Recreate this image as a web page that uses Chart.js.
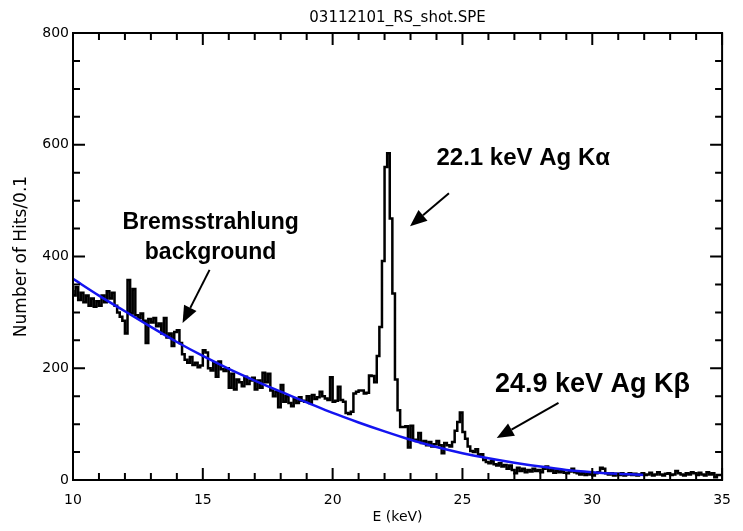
<!DOCTYPE html>
<html lang="en">
<head>
<meta charset="UTF-8">
<title>03112101_RS_shot.SPE</title>
<script src="https://cdn.jsdelivr.net/npm/chart.js"></script>
<style>
  body { margin: 0; background: #fff; }
  #wrap { width: 743px; height: 531px; }
</style>
</head>
<body>
<div id="wrap"><canvas id="spectrum" width="743" height="531"></canvas></div>
<script>
const plotTitle = '03112101_RS_shot.SPE';

// counts per 0.1 keV bin, first bin starts at 10.0 keV
const binStart = 10.0;
const binWidth = 0.1;
const counts = [
  340, 330, 345, 322, 335, 318, 330, 312, 325, 310,   // 10
  320, 312, 330, 318, 338, 325, 335, 312, 300, 292,   // 11
  285, 262, 358, 298, 342, 295, 290, 298, 285, 245,   // 12
  288, 282, 290, 275, 280, 262, 290, 255, 262, 240,   // 13
  265, 268, 245, 225, 215, 210, 220, 206, 210, 202,   // 14
  205, 232, 228, 200, 196, 210, 185, 212, 198, 195,   // 15
  200, 165, 190, 162, 180, 175, 168, 185, 172, 178,   // 16
  183, 162, 178, 165, 192, 175, 190, 160, 150, 158,   // 17
  130, 170, 140, 150, 138, 132, 145, 138, 148, 142,   // 18
  140, 150, 138, 152, 145, 148, 158, 150, 146, 143,   // 19
  184, 140, 142, 167, 143, 140, 120, 118, 122, 155,   // 20
  158, 160, 160, 155, 156, 187, 186, 175, 222, 274,   // 21
  392, 560, 585, 468, 334, 180, 125, 95, 95, 96,      // 22
  58, 97, 72, 70, 84, 66, 70, 62, 68, 60,             // 23
  64, 70, 62, 48, 66, 62, 60, 68, 88, 104,            // 24
  121, 86, 74, 60, 52, 50, 55, 44, 46, 36,            // 25
  32, 30, 34, 28, 26, 30, 24, 27, 20, 26,             // 26
  18, 12, 22, 16, 20, 14, 18, 15, 20, 16,             // 27
  18, 14, 20, 24, 16, 18, 13, 17, 14, 16,             // 28
  13, 12, 15, 20, 14, 12, 10, 13, 9, 12,              // 29
  10, 8, 12, 14, 22, 20, 12, 10, 12, 8,               // 30
  11, 9, 12, 8, 10, 12, 9, 11, 8, 10,                 // 31
  12, 9, 10, 13, 8, 10, 14, 10, 8, 11,                // 32
  12, 9, 10, 16, 12, 10, 8, 12, 10, 14,               // 33
  12, 9, 13, 10, 8, 14, 10, 12, 5, 9                  // 34
];

// bremsstrahlung background curve, read every 1 keV
const bgEnergy = [10, 11, 12, 13, 14, 15, 16, 17, 18, 19, 20, 21, 22, 23, 24, 25, 26, 27, 28, 29, 30, 31, 32];
const bgCounts = [360, 330, 302, 274, 247, 222, 199, 178, 158, 139, 120, 103, 87, 72, 59, 48, 39, 31, 24, 18, 14, 11, 9];

const xMajor = [10, 15, 20, 25, 30, 35];
const yMajor = [0, 200, 400, 600, 800];

// labels and arrows, in data coordinates (keV, counts)
const notes = [
  { lines: ['Bremsstrahlung', 'background'], x: 15.3, y: 460, size: 23, align: 'center', from: [15.26, 376], to: [14.22, 281] },
  { lines: ['22.1 keV Ag K\u03b1'], x: 24.0, y: 576, size: 24, align: 'left', from: [24.48, 513], to: [22.98, 454] },
  { lines: ['24.9 keV Ag K\u03b2'], x: 26.25, y: 170, size: 27, align: 'left', from: [28.7, 138], to: [26.32, 75] }
];

const histPoints = counts.map((c, i) => ({ x: binStart + i * binWidth, y: c }));
histPoints.push({ x: binStart + counts.length * binWidth, y: counts[counts.length - 1] });

const bgPoints = bgEnergy.map((e, i) => ({ x: e, y: bgCounts[i] }));

const labelFont = { family: 'DejaVu Sans', size: 14 };

// IDL style frame: box all round, ticks pointing inward, title over the plot
const frameTicks = {
  id: 'frameTicks',
  afterDatasetsDraw(chart) {
    const { ctx, chartArea: a, scales: { x, y } } = chart;
    ctx.save();
    ctx.strokeStyle = '#000';
    ctx.lineWidth = 2;
    ctx.strokeRect(a.left, a.top, a.right - a.left, a.bottom - a.top);
    ctx.beginPath();
    for (let e = 10; e <= 35; e++) {
      const px = x.getPixelForValue(e);
      const len = xMajor.includes(e) ? 12 : 7;
      ctx.moveTo(px, a.bottom); ctx.lineTo(px, a.bottom - len);
      ctx.moveTo(px, a.top); ctx.lineTo(px, a.top + len);
    }
    for (let v = 0; v <= 800; v += 50) {
      const py = y.getPixelForValue(v);
      const len = yMajor.includes(v) ? 12 : 7;
      ctx.moveTo(a.left, py); ctx.lineTo(a.left + len, py);
      ctx.moveTo(a.right, py); ctx.lineTo(a.right - len, py);
    }
    ctx.stroke();

    ctx.fillStyle = '#000';
    ctx.font = '15px "DejaVu Sans"';
    ctx.textAlign = 'center';
    ctx.textBaseline = 'middle';
    ctx.fillText(plotTitle, (a.left + a.right) / 2, 18);
    ctx.restore();
  }
};

const annotations = {
  id: 'annotations',
  afterDraw(chart) {
    const { ctx, scales: { x, y } } = chart;
    ctx.save();
    ctx.fillStyle = '#000';
    ctx.strokeStyle = '#000';
    ctx.textBaseline = 'middle';
    notes.forEach(n => {
      ctx.font = 'bold ' + n.size + 'px "Liberation Sans", Arial, sans-serif';
      ctx.textAlign = n.align;
      n.lines.forEach((t, i) => {
        ctx.fillText(t, x.getPixelForValue(n.x), y.getPixelForValue(n.y) + i * 30);
      });
      const x0 = x.getPixelForValue(n.from[0]), y0 = y.getPixelForValue(n.from[1]);
      const x1 = x.getPixelForValue(n.to[0]), y1 = y.getPixelForValue(n.to[1]);
      const ang = Math.atan2(y1 - y0, x1 - x0);
      const head = 17, half = 7;
      const bx = x1 - head * Math.cos(ang), by = y1 - head * Math.sin(ang);
      ctx.lineWidth = 2;
      ctx.beginPath();
      ctx.moveTo(x0, y0);
      ctx.lineTo(bx, by);
      ctx.stroke();
      ctx.beginPath();
      ctx.moveTo(x1, y1);
      ctx.lineTo(bx + half * Math.sin(ang), by - half * Math.cos(ang));
      ctx.lineTo(bx - half * Math.sin(ang), by + half * Math.cos(ang));
      ctx.closePath();
      ctx.fill();
    });
    ctx.restore();
  }
};

new Chart(document.getElementById('spectrum'), {
  type: 'line',
  data: {
    datasets: [
      {
        label: 'background',
        data: bgPoints,
        borderColor: '#1414f0',
        borderWidth: 2.5,
        pointRadius: 0,
        cubicInterpolationMode: 'monotone',
        order: 0
      },
      {
        label: 'spectrum',
        data: histPoints,
        borderColor: '#000',
        borderWidth: 2.5,
        pointRadius: 0,
        stepped: 'after',
        order: 1
      }
    ]
  },
  options: {
    responsive: false,
    animation: false,
    devicePixelRatio: 1,
    layout: { padding: { left: 0, right: 19, top: 33, bottom: 0 } },
    plugins: {
      legend: { display: false },
      tooltip: { enabled: false },
      title: { display: false }
    },
    scales: {
      x: {
        type: 'linear',
        min: 10,
        max: 35,
        afterFit(s) { s.height = 51; },
        afterBuildTicks(s) { s.ticks = xMajor.map(v => ({ value: v })); },
        ticks: { color: '#000', font: labelFont, padding: 12, maxRotation: 0 },
        grid: { display: false, drawTicks: false },
        border: { display: false },
        title: { display: true, text: 'E (keV)', color: '#000', font: labelFont, padding: { top: 0, bottom: 5 } }
      },
      y: {
        min: 0,
        max: 800,
        afterFit(s) { s.width = 73; },
        afterBuildTicks(s) { s.ticks = yMajor.map(v => ({ value: v })); },
        ticks: { color: '#000', font: labelFont, padding: 4 },
        grid: { display: false, drawTicks: false },
        border: { display: false },
        title: {
          display: true,
          text: 'Number of Hits/0.1',
          color: '#000',
          font: { family: 'DejaVu Sans', size: 17 },
          padding: { top: 11, bottom: 0 }
        }
      }
    }
  },
  plugins: [frameTicks, annotations]
});
</script>
</body>
</html>
